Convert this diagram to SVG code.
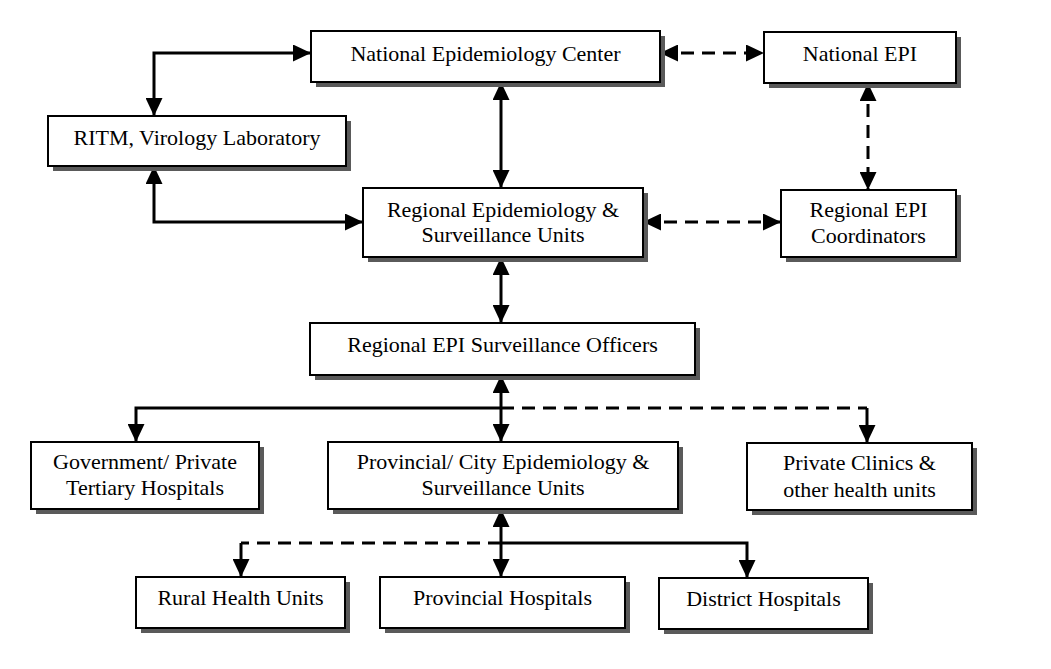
<svg xmlns="http://www.w3.org/2000/svg" width="1051" height="669" viewBox="0 0 1051 669">
<style>
.box{fill:#fff;stroke:#000;stroke-width:2}
.sh{fill:#5a5a5a}
text{font-family:"Liberation Serif","Times New Roman",serif;font-size:22px;fill:#000;text-anchor:middle}
.c{fill:none;stroke:#000;stroke-width:3}
.d{stroke-dasharray:13 8}
</style>
<defs>
<marker id="ah" markerUnits="userSpaceOnUse" markerWidth="18" markerHeight="17" refX="18" refY="8.5" orient="auto-start-reverse" viewBox="0 0 18 17">
<path d="M0,0 L18,8.5 L0,17 z" fill="#000"/>
</marker>
</defs>
<rect width="1051" height="669" fill="#fff"/>
<g id="connectors">
<path class="c" d="M154,116 V53 H311" marker-start="url(#ah)" marker-end="url(#ah)"/>
<path class="c" d="M154,166 V222 H363" marker-start="url(#ah)" marker-end="url(#ah)"/>
<path class="c" d="M501,82 V188" marker-start="url(#ah)" marker-end="url(#ah)"/>
<path class="c d" d="M660,53 H764" marker-start="url(#ah)" marker-end="url(#ah)"/>
<path class="c d" d="M868,83 V190" marker-start="url(#ah)" marker-end="url(#ah)"/>
<path class="c d" d="M643,222 H781" marker-start="url(#ah)" marker-end="url(#ah)"/>
<path class="c" d="M501,257 V323" marker-start="url(#ah)" marker-end="url(#ah)"/>
<path class="c" d="M501,375 V442" marker-start="url(#ah)" marker-end="url(#ah)"/>
<path class="c" d="M501,408 H136 V442" marker-end="url(#ah)"/>
<path class="c d" d="M501,408 H867"/>
<path class="c" d="M867,408 V443" marker-end="url(#ah)"/>
<path class="c" d="M501,509 V577" marker-start="url(#ah)" marker-end="url(#ah)"/>
<path class="c d" d="M501,543 H241"/>
<path class="c" d="M241,543 V577" marker-end="url(#ah)"/>
<path class="c" d="M501,543 H747 V578" marker-end="url(#ah)"/>
</g>
<g id="nec"><rect class="sh" x="316" y="36" width="349" height="51"/><rect class="box" x="311" y="31" width="349" height="51"/><text x="485.5" y="61">National Epidemiology Center</text></g>
<g id="natepi"><rect class="sh" x="769" y="37" width="192" height="51"/><rect class="box" x="764" y="32" width="192" height="51"/><text x="860" y="61">National EPI</text></g>
<g id="ritm"><rect class="sh" x="53" y="121" width="298" height="50"/><rect class="box" x="48" y="116" width="298" height="50"/><text x="197" y="145">RITM, Virology Laboratory</text></g>
<g id="resu"><rect class="sh" x="368" y="193" width="280" height="69"/><rect class="box" x="363" y="188" width="280" height="69"/><text x="503" y="217">Regional Epidemiology &amp;</text><text x="503" y="242">Surveillance Units</text></g>
<g id="repic"><rect class="sh" x="786" y="195" width="175" height="67"/><rect class="box" x="781" y="190" width="175" height="67"/><text x="868.5" y="217">Regional EPI</text><text x="868.5" y="243">Coordinators</text></g>
<g id="officers"><rect class="sh" x="315" y="328" width="385" height="52"/><rect class="box" x="310" y="323" width="385" height="52"/><text x="502.5" y="352">Regional EPI Surveillance Officers</text></g>
<g id="gov"><rect class="sh" x="36" y="447" width="228" height="67"/><rect class="box" x="31" y="442" width="228" height="67"/><text x="145" y="469">Government/ Private</text><text x="145" y="495">Tertiary Hospitals</text></g>
<g id="pcesu"><rect class="sh" x="333" y="447" width="350" height="67"/><rect class="box" x="328" y="442" width="350" height="67"/><text x="503" y="469">Provincial/ City Epidemiology &amp;</text><text x="503" y="495">Surveillance Units</text></g>
<g id="private"><rect class="sh" x="752" y="448" width="225" height="67"/><rect class="box" x="747" y="443" width="225" height="67"/><text x="859.5" y="470">Private Clinics &amp;</text><text x="859.5" y="497">other health units</text></g>
<g id="rhu"><rect class="sh" x="141" y="582" width="209" height="51"/><rect class="box" x="136" y="577" width="209" height="51"/><text x="240.5" y="605">Rural Health Units</text></g>
<g id="provhosp"><rect class="sh" x="385" y="582" width="245" height="51"/><rect class="box" x="380" y="577" width="245" height="51"/><text x="502.5" y="605">Provincial Hospitals</text></g>
<g id="disthosp"><rect class="sh" x="664" y="583" width="209" height="51"/><rect class="box" x="659" y="578" width="209" height="51"/><text x="763.5" y="606">District Hospitals</text></g>
</svg>
